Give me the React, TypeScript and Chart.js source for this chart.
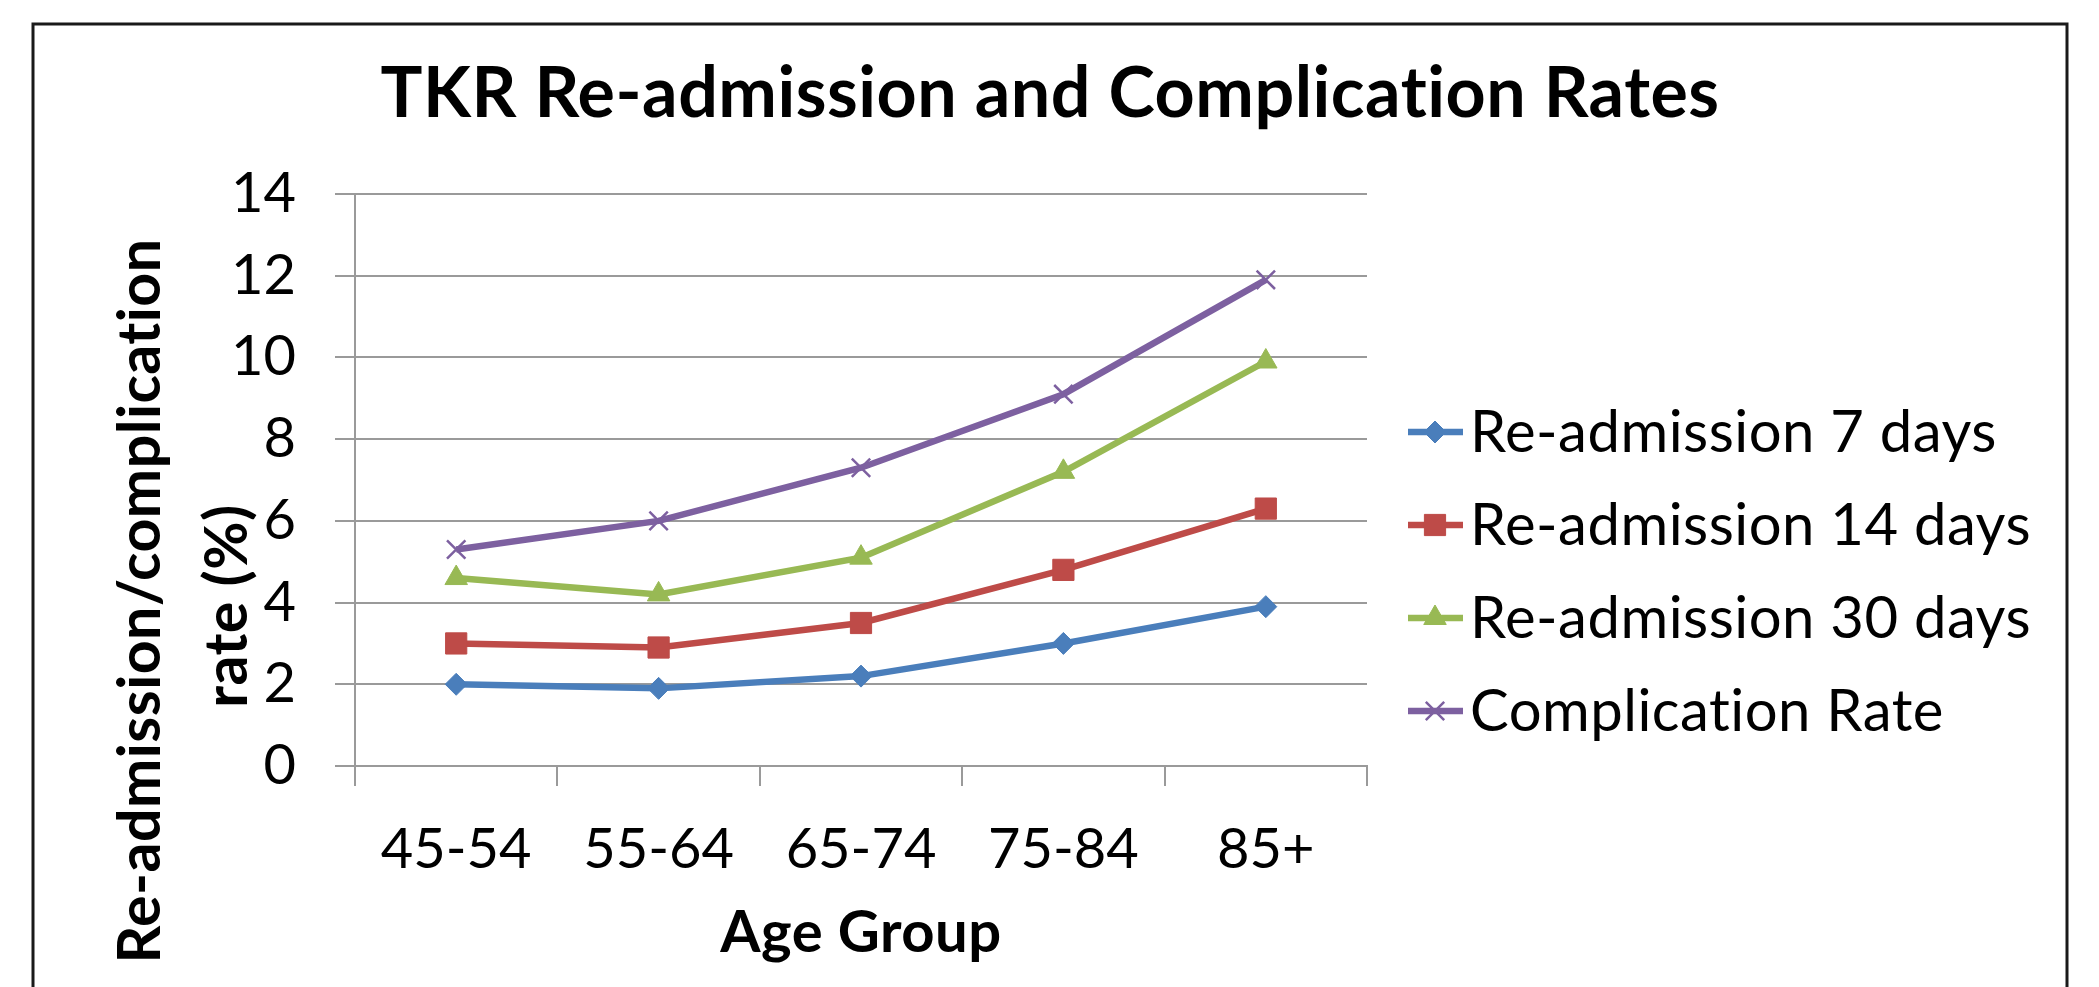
import React, { useEffect, useRef } from 'react';
import { Chart, registerables } from 'chart.js';
import { drawPoint } from 'chart.js/helpers';

Chart.register(...registerables);

const categories = ['45-54', '55-64', '65-74', '75-84', '85+'];
const readmission7 = [2.0, 1.9, 2.2, 3.0, 3.9];
const readmission14 = [3.0, 2.9, 3.5, 4.8, 6.3];
const readmission30 = [4.6, 4.2, 5.1, 7.2, 9.9];
const complicationRate = [5.3, 6.0, 7.3, 9.1, 11.9];
const seriesNames = ['Re-admission 7 days', 'Re-admission 14 days', 'Re-admission 30 days', 'Complication Rate'];
const chartTitle = 'TKR Re-admission and Complication Rates';
const xAxisTitle = 'Age Group';
const yAxisTitleLines = ['Re-admission/complication', 'rate (%)'];
const yMin = 0;
const yMax = 14;
const yStep = 2;

const FONT = 'Lato, "Open Sans", sans-serif';
const W = 2099;
const H = 987;
const LINE_W = 6.5;

const decorPlugin = {
  id: 'decor',
  afterDraw(chart: any) {
    const ctx = chart.ctx as CanvasRenderingContext2D & { letterSpacing?: string };
    const area = chart.chartArea;
    ctx.save();
    // outer border (top, left, right)
    ctx.strokeStyle = '#1a1a1a';
    ctx.lineWidth = 3;
    ctx.beginPath();
    ctx.moveTo(33, H + 5);
    ctx.lineTo(33, 24);
    ctx.lineTo(2067, 24);
    ctx.lineTo(2067, H + 5);
    ctx.stroke();

    ctx.fillStyle = '#000';
    ctx.letterSpacing = '0.5px';
    ctx.textAlign = 'center';
    ctx.textBaseline = 'alphabetic';

    // title
    ctx.font = `bold 70px ${FONT}`;
    ctx.fillText(chartTitle, 1050, 117);

    // x axis title
    ctx.font = `bold 58px ${FONT}`;
    ctx.fillText(xAxisTitle, (area.left + area.right) / 2, 952);

    // y axis title (rotated; local y maps to screen x)
    ctx.font = `bold 59px ${FONT}`;
    ctx.save();
    ctx.translate(0, 601);
    ctx.rotate(-Math.PI / 2);
    ctx.fillText(yAxisTitleLines[0], 0, 160);
    ctx.restore();
    ctx.save();
    ctx.translate(0, 606);
    ctx.rotate(-Math.PI / 2);
    ctx.fillText(yAxisTitleLines[1], 0, 247);
    ctx.restore();

    // legend
    const rows = [432, 525, 618, 711];
    chart.data.datasets.forEach((ds: any, i: number) => {
      const y = rows[i];
      ctx.strokeStyle = ds.borderColor;
      ctx.lineWidth = LINE_W;
      ctx.beginPath();
      ctx.moveTo(1408, y);
      ctx.lineTo(1463, y);
      ctx.stroke();
      ctx.fillStyle = ds.pointBackgroundColor;
      ctx.strokeStyle = ds.pointBorderColor;
      ctx.lineWidth = ds.pointBorderWidth ?? 1;
      drawPoint(ctx, {
        pointStyle: ds.pointStyle,
        radius: ds.pointRadius,
        borderWidth: ds.pointBorderWidth ?? 1,
        rotation: 0,
      } as any, 1435, y);
      ctx.fillStyle = '#000';
      ctx.font = `58px ${FONT}`;
      ctx.textAlign = 'left';
      ctx.textBaseline = 'alphabetic';
      ctx.fillText(ds.label, 1470, y + 20);
    });
    ctx.restore();
  },
};

export default function App() {
  const ref = useRef<HTMLCanvasElement | null>(null);
  useEffect(() => {
    if (!ref.current) return;
    const mk = (label: string, data: number[], color: string, style: string, radius: number, bw = 1) => ({
      label,
      data,
      borderColor: color,
      backgroundColor: color,
      pointBackgroundColor: color,
      pointBorderColor: color,
      pointStyle: style,
      pointRadius: radius,
      pointBorderWidth: bw,
      borderWidth: LINE_W,
      tension: 0,
    });
    const chart = new Chart(ref.current, {
      type: 'line',
      data: {
        labels: categories,
        datasets: [
          mk(seriesNames[0], readmission7, '#4A7EBB', 'rectRot', 11),
          mk(seriesNames[1], readmission14, '#BE4B48', 'rect', 15),
          mk(seriesNames[2], readmission30, '#98B954', 'triangle', 13),
          mk(seriesNames[3], complicationRate, '#7D60A0', 'crossRot', 13, 2.5),
        ],
      },
      options: {
        responsive: false,
        animation: false,
        layout: { padding: { left: 0, right: W - 1367, top: 194, bottom: 0 } },
        plugins: { legend: { display: false }, title: { display: false }, tooltip: { enabled: false } },
        scales: {
          x: {
            offset: true,
            grid: { offset: true, drawOnChartArea: false, drawTicks: true, tickLength: 20, color: '#9a9a9a', lineWidth: 2 },
            border: { display: true, color: '#9a9a9a', width: 2 },
            ticks: { color: '#000', font: { family: FONT, size: 56 }, padding: 30 },
            afterFit: (s: any) => { s.height = H - 766; },
          },
          y: {
            min: yMin,
            max: yMax,
            ticks: { stepSize: yStep, color: '#000', font: { family: FONT, size: 56 }, padding: 39 },
            grid: { color: '#9a9a9a', lineWidth: 2, tickLength: 20, drawTicks: true },
            border: { display: true, color: '#9a9a9a', width: 2 },
            afterFit: (s: any) => { s.width = 355; },
          },
        },
      },
      plugins: [decorPlugin],
    } as any);
    return () => chart.destroy();
  }, []);
  return (
    <div style={{ position: 'absolute', left: 0, top: 0, width: W, height: H, background: '#fff' }}>
      <canvas ref={ref} width={W} height={H} style={{ width: W, height: H, display: 'block' }} />
    </div>
  );
}
